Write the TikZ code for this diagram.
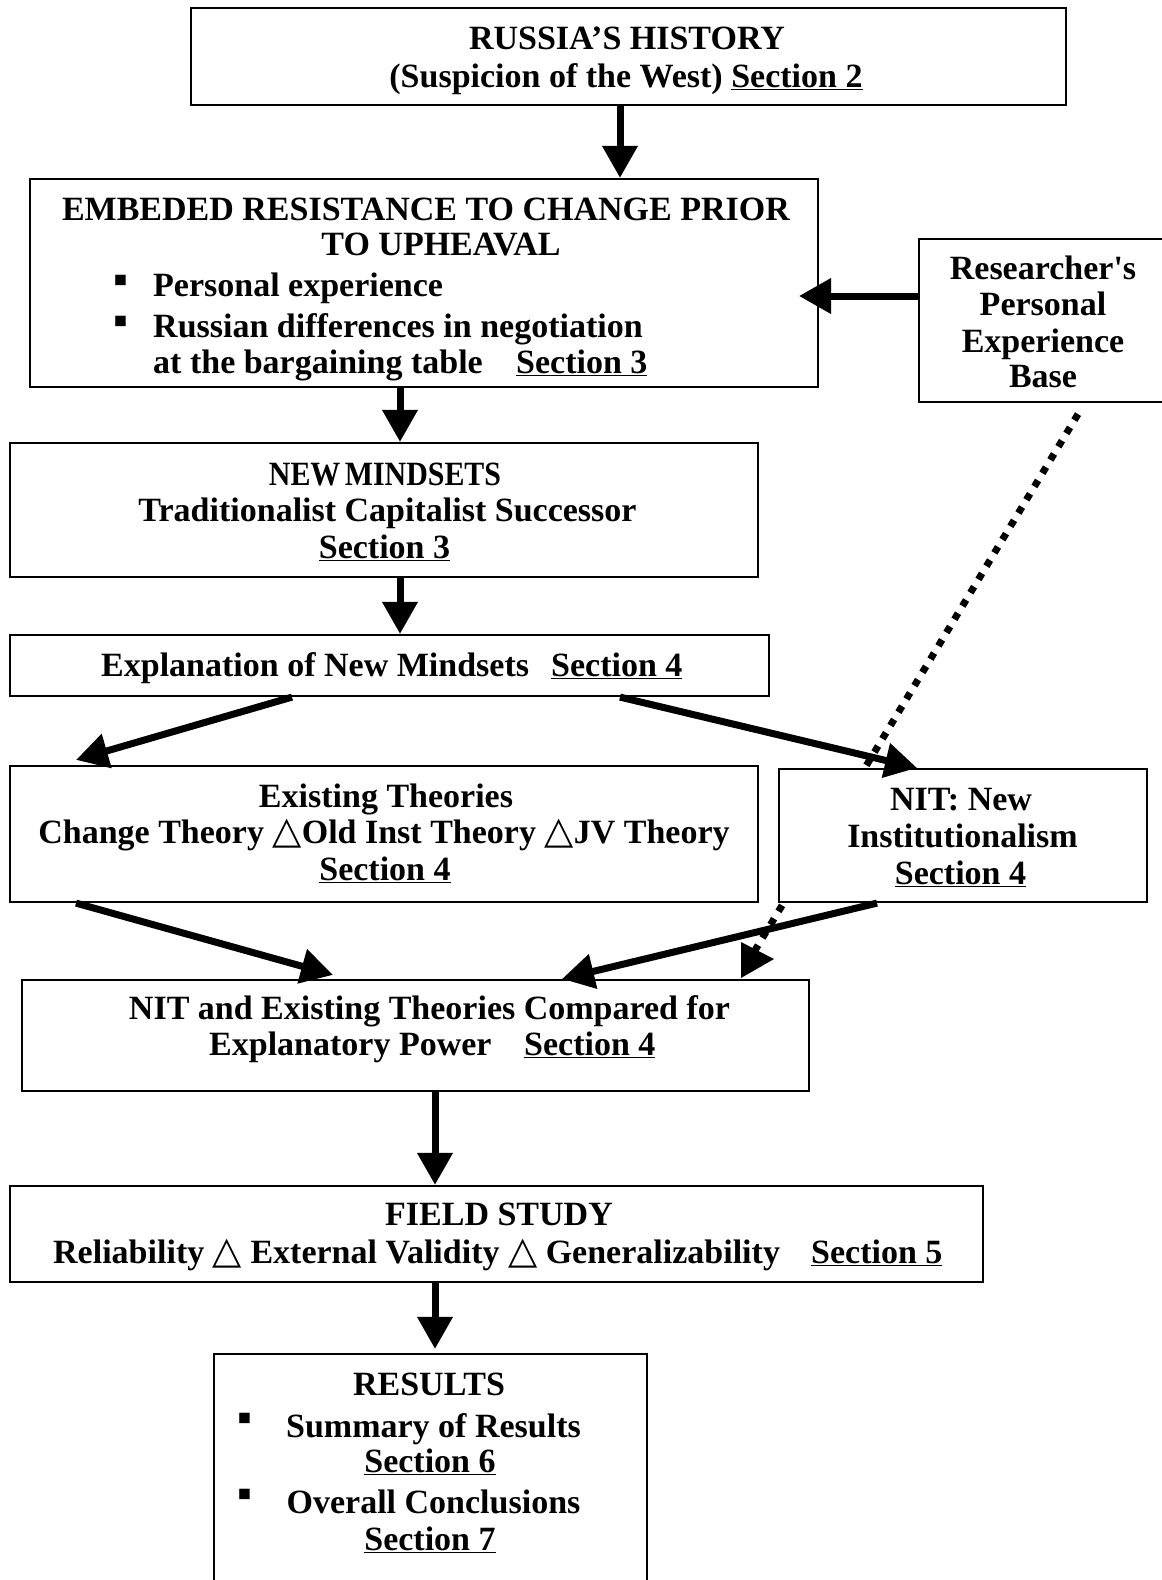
\documentclass[tikz,border=0pt]{standalone}
\usepackage{fontspec}
\usepackage{graphicx}
\setmainfont{Liberation Serif}
\newfontfamily\symfont{DejaVu Sans}
\usetikzlibrary{arrows.meta,backgrounds}
\newcommand{\tri}{{\symfont\fontsize{38}{40}\selectfont △}}
\newcommand{\sqb}{{\bfseries\fontsize{42}{44}\selectfont ▪}}
\tikzset{
  box/.style={draw, line width=2.2pt, fill=white, inner sep=0pt},
  txt/.style={inner sep=0pt, font=\bfseries\fontsize{34}{36.6}\selectfont},
  tc/.style={txt, anchor=base},
  tl/.style={txt, anchor=base west},
  arr/.style={line width=7pt, -{Triangle[width=34pt,length=32pt]}},
  dotline/.style={line width=7pt, dash pattern=on 7pt off 8.5pt}
}
\begin{document}
\begin{tikzpicture}[x=1pt,y=-1pt]
\useasboundingbox (0,0) rectangle (1162,1580);
% boxes
\node[box, minimum width=875pt, minimum height=97pt] (b1) at (628.5,56.5) {};
\node[box, minimum width=788pt, minimum height=208pt] (b2) at (424,283) {};
\node[box, minimum width=256pt, minimum height=163pt] (res) at (1047,320.5) {};
\node[box, minimum width=748pt, minimum height=134pt] (b3) at (384,510) {};
\node[box, minimum width=759pt, minimum height=61pt] (b4) at (389.5,665.5) {};
\node[box, minimum width=748pt, minimum height=136pt] (b5) at (384,834) {};
\node[box, minimum width=368pt, minimum height=133pt] (b6) at (963,835.5) {};
\node[box, minimum width=787pt, minimum height=111pt] (b7) at (415.5,1035.5) {};
\node[box, minimum width=973pt, minimum height=96pt] (b8) at (496.5,1234) {};
\node[box, minimum width=433pt, minimum height=246pt] (b9) at (430.5,1477) {};
% dotted connector (behind boxes)
\coordinate (dotend) at (754,952);
\begin{scope}[on background layer]
\draw[dotline] ([xshift=31pt,yshift=-11pt]res.south) -- (dotend);
\end{scope}
\fill (dotend) ++(-13,-10) -- ++(0,36) -- ++(33,-19) -- cycle;
% arrows
\coordinate (a2tip) at (799,296);
\draw[arr] ([xshift=-8.5pt]b1.south) -- ([xshift=-8.5pt]b1.south |- b2.north);
\draw[arr] ([yshift=24.5pt]res.west) -- (a2tip);
\draw[arr] ([xshift=-24pt]b2.south) -- ([xshift=-24pt]b2.south |- b3.north);
\draw[arr] ([xshift=16pt]b3.south) -- ([xshift=16pt]b3.south |- b4.north);
\draw[arr] ([xshift=-97.5pt]b4.south) -- ([xshift=-308pt,yshift=5pt]b5.north);
\draw[arr] ([xshift=230.5pt]b4.south) -- ([xshift=-46pt]b6.north);
\draw[arr] ([xshift=-308pt]b5.south) -- ([xshift=-82.5pt,yshift=4pt]b7.north);
\draw[arr] ([xshift=-86pt]b6.south) -- ([xshift=146.5pt]b7.north);
\draw[arr] ([xshift=19.5pt]b7.south) -- ([xshift=19.5pt]b7.south |- b8.north);
\draw[arr] ([xshift=-61.5pt]b8.south) -- ([xshift=-61.5pt,yshift=4pt]b8.south |- b9.north);
% texts
\node[tc] (t1a) at (627,49) {RUSSIA’S HISTORY};
\node[tc] (t1b) at (626,87) {(Suspicion of the West) \underline{Section 2}};
\node[tc] (t2a) at (426,220) {EMBEDED RESISTANCE TO CHANGE PRIOR};
\node[tc] (t2b) at (441,255) {TO UPHEAVAL};
\node[txt] (t2s1) at (121,284) {\sqb};
\node[txt] (t2s2) at (121,325) {\sqb};
\node[tl] (t2c) at (153,296) {Personal experience};
\node[tl] (t2d) at (153,337) {Russian differences in negotiation};
\node[tl] (t2e) at (153,373) {at the bargaining table};
\node[tl] (t2f) at (516,373) {\underline{Section 3}};
\node[tc] (r1) at (1043,279) {Researcher\textquotesingle s};
\node[tc] (r2) at (1043,315) {Personal};
\node[tc] (r3) at (1043,352) {Experience};
\node[tc] (r4) at (1043,387) {Base};
\node[tc] (t3a) at (385,485) {\scalebox{0.88}[1]{NEW\kern5pt MINDSETS}};
\node[tc] (t3b) at (387.5,521) {Traditionalist Capitalist Successor};
\node[tc] (t3c) at (384.5,558) {\underline{Section 3}};
\node[tl] (t4a) at (101,676) {Explanation of New Mindsets};
\node[tl] (t4b) at (551,676) {\underline{Section 4}};
\node[tc] (t5a) at (386,807) {Existing Theories};
\node[tc] (t5b) at (384,843) {Change Theory \tri Old Inst Theory \tri JV Theory};
\node[tc] (t5c) at (385,880) {\underline{Section 4}};
\node[tc] (t6a) at (961,810) {NIT: New};
\node[tc] (t6b) at (962.5,847) {Institutionalism};
\node[tc] (t6c) at (960.5,884) {\underline{Section 4}};
\node[tc] (t7a) at (429.5,1019) {NIT and Existing Theories Compared for};
\node[tl] (t7b) at (209,1055) {Explanatory Power};
\node[tl] (t7c) at (524,1055) {\underline{Section 4}};
\node[tc] (t8a) at (499,1225) {FIELD STUDY};
\node[tl] (t8b) at (53,1263) {Reliability \tri{} External Validity \tri{} Generalizability};
\node[tl] (t8c) at (811,1263) {\underline{Section 5}};
\node[tc] (t9a) at (429,1395) {RESULTS};
\node[txt] (t9s1) at (245,1422) {\sqb};
\node[tc] (t9b) at (433.5,1437) {Summary of Results};
\node[tc] (t9c) at (430,1472) {\underline{Section 6}};
\node[txt] (t9s2) at (245,1498) {\sqb};
\node[tc] (t9d) at (433.5,1513) {Overall Conclusions};
\node[tc] (t9e) at (430,1550) {\underline{Section 7}};
\end{tikzpicture}
\end{document}
